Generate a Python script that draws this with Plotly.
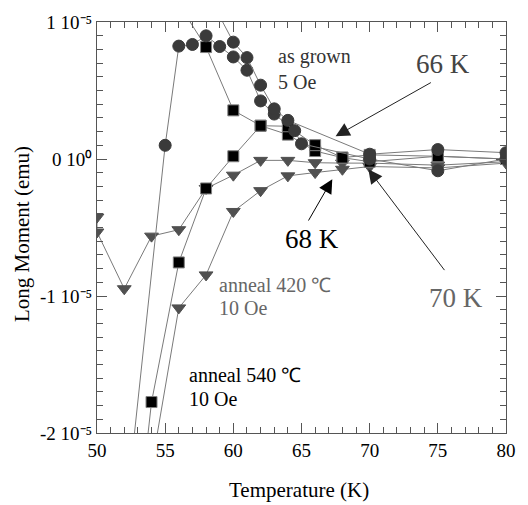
import plotly.graph_objects as go

SCALE = 1e-5  # values below are in units of 1e-5 emu

# as grown, 5 Oe (circles)
c1_T = [52, 55, 56, 57, 58, 59, 60, 61, 62, 63, 64.5, 65, 70, 75, 80]
c1_M = [-2.7, 0.10, 0.824, 0.836, 0.899, 0.821, 0.745, 0.648, 0.424, 0.328, 0.207, 0.111, 0.0, -0.086, 0.0]
c2_T = [58, 60, 61, 62, 63, 64, 70, 75, 80]
c2_M = [1.23, 0.853, 0.74, 0.539, 0.366, 0.282, 0.035, 0.069, 0.046]

# anneal 540 C, 10 Oe (squares)
s1_T = [52, 54, 56, 58, 60, 62, 64, 66, 68, 70, 75, 80]
s1_M = [-3.57, -1.774, -0.755, -0.215, 0.02, 0.243, 0.178, 0.058, 0.01, -0.02, 0.02, 0.0]
s2_T = [56, 58, 60, 62, 64, 66, 68, 70, 75, 80]
s2_M = [1.13, 0.817, 0.355, 0.243, 0.239, 0.101, 0.01, 0.03, 0.02, 0.0]

# anneal 420 C, 10 Oe (triangles)
t1_T = [50, 50, 52, 54, 56, 58, 60, 62, 64, 66, 68, 70, 75, 80]
t1_M = [-0.424, -0.533, -0.947, -0.563, -0.516, -0.215, -0.118, -0.01, -0.01, -0.027, -0.03, -0.03, -0.045, -0.02]
t2_T = [54, 56, 58, 60, 62, 64, 66, 68, 70, 75, 80]
t2_M = [-2.25, -1.087, -0.846, -0.383, -0.231, -0.123, -0.099, -0.075, -0.055, -0.065, -0.03]

y_tickvals = [1, 0, -1, -2]
y_ticktext = ["1 10\u207b\u2075", "0 10\u2070", "-1 10\u207b\u2075", "-2 10\u207b\u2075"]

FONT = "Liberation Serif"
LINE = dict(color="#7a7a7a", width=1)
AXC = "#555555"

fig = go.Figure()


def add(T, M, symbol, color, size, outline):
    fig.add_trace(go.Scatter(
        x=T, y=[m * SCALE for m in M], mode="lines+markers",
        line=LINE,
        marker=dict(symbol=symbol, size=size, color=color,
                    line=dict(color=outline, width=1)),
        showlegend=False))


add(t1_T, t1_M, "triangle-down", "#505050", 12, "#505050")
add(t2_T, t2_M, "triangle-down", "#505050", 12, "#505050")
add(s1_T, s1_M, "square", "#000000", 11, "#808080")
add(s2_T, s2_M, "square", "#000000", 11, "#808080")
add(c1_T, c1_M, "circle", "#3a3a3a", 12, "#3a3a3a")
add(c2_T, c2_M, "circle", "#3a3a3a", 12, "#3a3a3a")

ann = []


def text(x, y, s, size, color, xanchor="left"):
    ann.append(dict(x=x, y=y * SCALE, xref="x", yref="y", text=s, showarrow=False,
                    xanchor=xanchor, yanchor="middle",
                    font=dict(family=FONT, size=size, color=color)))


def arrow(x, y, ax, ay, color):
    ann.append(dict(x=x, y=y * SCALE, ax=ax, ay=ay * SCALE, xref="x", yref="y",
                    axref="x", ayref="y", text="", showarrow=True,
                    arrowhead=2, arrowsize=2.8, arrowwidth=1, arrowcolor=color))


text(63.15, 0.745, "as grown", 20, "#333333")
text(63.15, 0.56, "5 Oe", 20, "#333333")
text(75.35, 0.69, "66 K", 27, "#444444", "center")
text(65.8, -0.585, "68 K", 27, "#000000", "center")
text(76.3, -1.015, "70 K", 27, "#666666", "center")
text(58.8, -0.918, "anneal 420 \u2103", 20, "#666666")
text(58.8, -1.09, "10 Oe", 20, "#666666")
text(56.6, -1.58, "anneal 540 \u2103", 20, "#000000")
text(56.6, -1.75, "10 Oe", 20, "#000000")

arrow(67.5, 0.166, 74.6, 0.564, "#222222")
arrow(67.26, -0.147, 65.45, -0.46, "#000000")
arrow(69.9, -0.075, 75.57, -0.822, "#222222")

# axis titles
ann.append(dict(x=0, y=0.484, xref="paper", yref="paper", xshift=-75, text="Long Moment (emu)",
                textangle=-90, showarrow=False, xanchor="center", yanchor="middle",
                font=dict(family=FONT, size=21, color="#000000")))
ann.append(dict(x=0.494, y=0, xref="paper", yref="paper", yshift=-57, text="Temperature (K)",
                showarrow=False, xanchor="center", yanchor="middle",
                font=dict(family=FONT, size=21, color="#000000")))

fig.update_layout(
    width=528, height=505,
    margin=dict(l=97, r=16, t=18, b=72),
    paper_bgcolor="white", plot_bgcolor="white",
    font=dict(family=FONT, size=19, color="#000000"),
    annotations=ann,
)
fig.update_xaxes(
    range=[50, 80], dtick=5, tick0=50,
    ticks="inside", ticklen=10, tickwidth=1.3, tickcolor=AXC,
    showline=True, linecolor=AXC, mirror="ticks",
    minor=dict(ticks="inside", ticklen=6, tickcolor=AXC, tickwidth=1.3, dtick=1),
)
fig.update_yaxes(
    range=[-2 * SCALE, 1 * SCALE], tickmode="array",
    tickvals=[v * SCALE for v in y_tickvals], ticktext=y_ticktext,
    ticks="inside", ticklen=10, tickwidth=1.3, tickcolor=AXC,
    showline=True, linecolor=AXC, mirror="ticks",
    minor=dict(ticks="inside", ticklen=6, tickcolor=AXC, tickwidth=1.3, dtick=0.1 * SCALE),
)

fig.write_html("out.html")
